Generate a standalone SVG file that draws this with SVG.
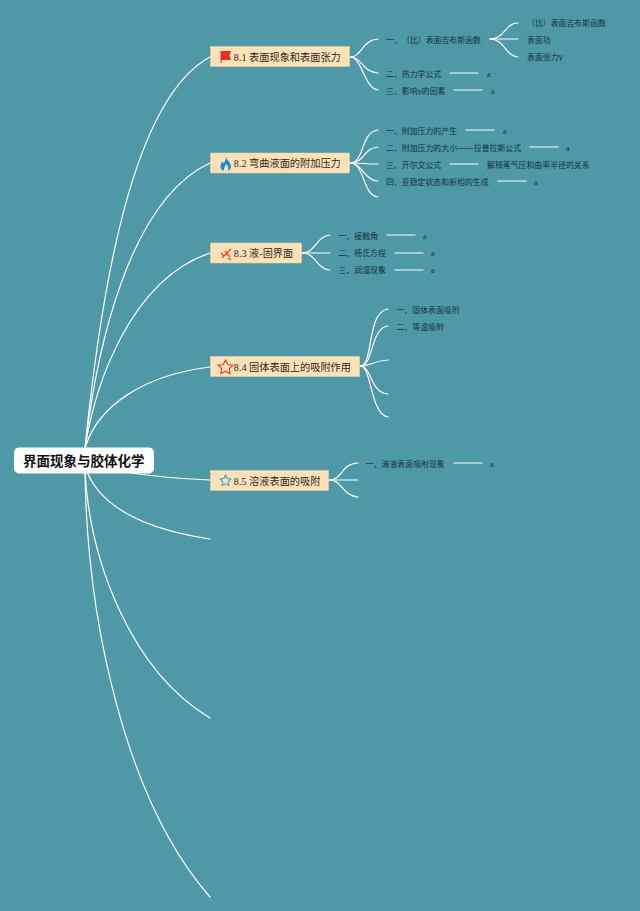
<svg xmlns="http://www.w3.org/2000/svg" width="640" height="911" viewBox="0 0 640 911">
<style>
.c{fill:none;stroke:#fff;stroke-width:1.2;stroke-linecap:round}
.n{fill:#fbe2b8;stroke:#f3d6a4;stroke-width:.5}
.t{font-family:"Liberation Serif","Noto Sans CJK SC",sans-serif;font-size:10.2px;fill:#33261a;font-feature-settings:"chws" 0,"palt" 0;font-kerning:none}
.s{font-family:"Noto Sans CJK SC",sans-serif;font-size:7.9px;fill:#15323f;font-feature-settings:"chws" 0,"palt" 0;font-kerning:none}
.a{font-family:"Liberation Serif",serif;font-size:8px;fill:#15323f}
</style>
<rect width="640" height="911" fill="#4f98a8"/>
<g id="connectors">
<path class="c" d="M85 448C100 300 130 100 210 57"/>
<path class="c" d="M85 448C97 345 130 200 210 163"/>
<path class="c" d="M85 448C95 385 130 280 210 253"/>
<path class="c" d="M85 448C98 405 145 375 210 367"/>
<path class="c" d="M125 472C150 476 185 479 210 480"/>
<path class="c" d="M87 472C103 510 150 530 210 539"/>
<path class="c" d="M85 472C90 560 130 670 210 718"/>
<path class="c" d="M85 472C87 620 125 800 210 897"/>
<path class="c" d="M350 57C362 57 362 40 378 39"/>
<path class="c" d="M350 57C362 57 362 72 378 73"/>
<path class="c" d="M350 57C362 57 364 88 378 90"/>
<path class="c" d="M490 39C505 39 505 23 518 23"/>
<path class="c" d="M490 39H518"/>
<path class="c" d="M490 39C505 39 505 56 518 57"/>
<path class="c" d="M450 73H478M454 90H482"/>
<path class="c" d="M350 163C365 163 360 132 378 130"/>
<path class="c" d="M350 163C365 163 362 149 378 147"/>
<path class="c" d="M350 163C362 163 365 164 378 164"/>
<path class="c" d="M350 163C362 163 364 180 378 181"/>
<path class="c" d="M350 163C365 163 362 195 378 197"/>
<path class="c" d="M466 130H494M530 147H558M450 164H478M498 181H526"/>
<path class="c" d="M302 253C316 253 316 236 330 235"/>
<path class="c" d="M302 253H330"/>
<path class="c" d="M302 253C316 253 316 269 330 270"/>
<path class="c" d="M387 235H415M395 253H423M395 270H423"/>
<path class="c" d="M360 366C374 366 366 312 388 309"/>
<path class="c" d="M360 366C374 366 370 328 388 326"/>
<path class="c" d="M360 366C372 366 372 361 388 360"/>
<path class="c" d="M360 366C372 366 370 393 388 394"/>
<path class="c" d="M360 366C372 366 370 414 388 417"/>
<path class="c" d="M329 480C343 480 340 464 358 463"/>
<path class="c" d="M329 480H358"/>
<path class="c" d="M329 480C343 480 342 496 358 497"/>
<path class="c" d="M454 463H482"/>
</g>
<g id="root">
<rect x="14" y="447.500" width="140" height="26" rx="5" fill="#fff"/>
<text x="23" y="466" font-family="Noto Sans CJK SC,sans-serif" font-size="13.500" font-weight="700" fill="#111">界面现象与胶体化学</text>
</g>
<g id="node-8-1">
<rect class="n" x="210.500" y="46.500" width="139" height="20"/>
<path d="M220.500 63V51H231L229.500 55.500L231 60H221.500V63Z" fill="#e8321f"/>
<text class="t" x="233.800" y="61">8.1 表面现象和表面张力</text>
</g>
<g id="node-8-2">
<rect class="n" x="210.500" y="153" width="139" height="20"/>
<path d="M226 157C226.500 160 231 162.500 231 166.500C231 169 229 170.500 228 170.500C229 168 228 165.500 225.800 164C225.800 166 223.500 167.500 224 170.500C222.500 170.500 220.500 169 220.500 166.500C220.500 164.500 221.500 162.500 222.500 161.500L223.500 163.500C224.800 162 225.700 160 226 157Z" fill="#1e88d8"/>
<text class="t" x="233.800" y="167">8.2 弯曲液面的附加压力</text>
</g>
<g id="node-8-3">
<rect class="n" x="210.500" y="243" width="91" height="20"/>
<path d="M222 258L231 249M225 251L230 257M221 253L224 256M228 258L231 260" stroke="#e8432f" stroke-width="1.300" fill="none"/>
<text class="t" x="233.800" y="257">8.3 液-固界面</text>
</g>
<g id="node-8-4">
<rect class="n" x="210.500" y="356.500" width="149" height="20"/>
<path d="M225.500 360L227.800 364.500L232.800 365.200L229.200 368.700L230 373.700L225.500 371.300L221 373.700L221.800 368.700L218.200 365.200L223.200 364.500Z" fill="none" stroke="#e8432f" stroke-width="1.200"/>
<text class="t" x="233.800" y="371">8.4 固体表面上的吸附作用</text>
</g>
<g id="node-8-5">
<rect class="n" x="210.500" y="470.500" width="118" height="20"/>
<path d="M225.500 475L227.200 478.600L231 479.100L228.200 481.800L228.900 485.600L225.500 483.800L222.100 485.600L222.800 481.800L220 479.100L223.800 478.600Z" fill="none" stroke="#4d9fc4" stroke-width="1.100"/>
<text class="t" x="233.800" y="485">8.5 溶液表面的吸附</text>
</g>
<g id="sub-8-1">
<text class="s" x="386" y="43">一、<tspan x="402">（比）</tspan><tspan x="425.700">表面吉布斯函数</tspan></text>
<text class="s" x="527" y="26">（比）<tspan x="550.700">表面吉布斯函数</tspan></text>
<text class="s" x="527" y="43">表面功</text>
<text class="s" x="527" y="60">表面张力γ</text>
<text class="s" x="386" y="77">二、热力学公式</text>
<text class="a" x="487" y="77">a</text>
<text class="s" x="386" y="94">三、影响γ的因素</text>
<text class="a" x="491" y="94">a</text>
</g>
<g id="sub-8-2">
<text class="s" x="386" y="134">一、附加压力的产生</text>
<text class="a" x="503" y="134">a</text>
<text class="s" x="386" y="151">二、附加压力的大小<tspan x="457.200" textLength="16.500" lengthAdjust="spacingAndGlyphs">——</tspan><tspan x="473.800">拉普拉斯公式</tspan></text>
<text class="a" x="566" y="151">a</text>
<text class="s" x="386" y="168">三、开尔文公式</text>
<text class="s" x="487" y="168">解释蒸气压和曲率半径的关系</text>
<text class="s" x="386" y="185">四、亚稳定状态和新相的生成</text>
<text class="a" x="534" y="185">a</text>
</g>
<g id="sub-8-3">
<text class="s" x="338.500" y="239">一、接触角</text>
<text class="a" x="423" y="239">a</text>
<text class="s" x="338.500" y="256">二、杨氏方程</text>
<text class="a" x="431" y="256">a</text>
<text class="s" x="338.500" y="273">三、润湿现象</text>
<text class="a" x="431" y="273">a</text>
</g>
<g id="sub-8-4">
<text class="s" x="396.500" y="313">一、固体表面吸附</text>
<text class="s" x="396.500" y="330">二、等温吸附</text>
</g>
<g id="sub-8-5">
<text class="s" x="365.800" y="467">一、溶液表面吸附现象</text>
<text class="a" x="490" y="467">a</text>
</g>
</svg>
